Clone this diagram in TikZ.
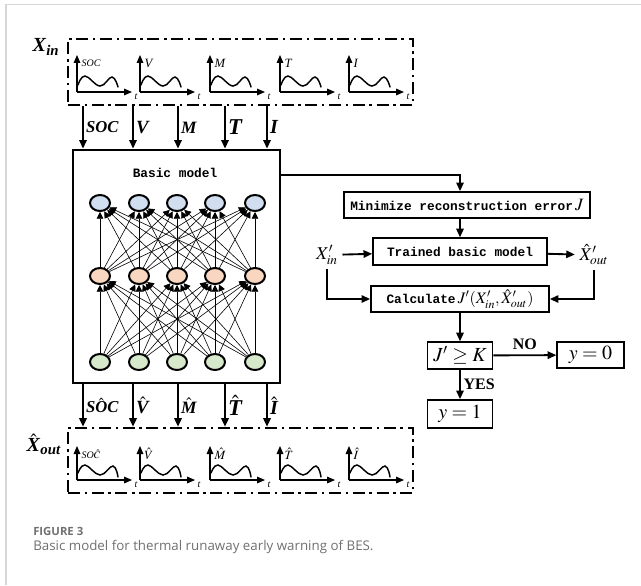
\documentclass[tikz,border=0pt]{standalone}
\usepackage{amsmath}
\usepackage{mathptmx}
\usepackage{fontspec}
\setmainfont{Liberation Serif}
\setmonofont{Liberation Mono}
\newfontfamily\capfont{Open Sans}
\usetikzlibrary{arrows.meta}
\usetikzlibrary{shapes.geometric}
\usetikzlibrary{fit}
\definecolor{cardgray}{HTML}{D6D6D6}
\definecolor{capgray}{HTML}{707070}
\definecolor{topblue}{HTML}{D0DEF0}
\definecolor{midpeach}{HTML}{F9D6C0}
\definecolor{lowgreen}{HTML}{D6EACB}
\newcommand{\bi}[1]{\textbf{\textit{#1}}}
\newcommand{\fs}[1]{\fontsize{#1}{#1}\selectfont}

\begin{document}
\begin{tikzpicture}[x=0.75pt,y=-0.75pt,
>={Triangle[length=6.5pt,width=5.5pt]},
card/.style={draw=cardgray,line width=1.1pt},
dashbox/.style={draw,inner sep=0pt,line width=1.8pt,
dash pattern=on 9pt off 3.5pt on 1.8pt off 3.5pt},
modelbox/.style={draw,inner sep=0pt,line width=2pt},
feed/.style={->,line width=1.7pt},
axis/.style={-{Triangle[length=6pt,width=5pt]},line width=0.8pt},
wave/.style={line width=1.1pt,line cap=round},
neuron/.style={ellipse,draw,line width=1.5pt,minimum width=15pt,
minimum height=12pt,inner sep=0pt},
link/.style={-{Triangle[length=5pt,width=5pt]},line width=0.45pt},
stepbox/.style={draw,line width=1.2pt,inner sep=0pt,font=\ttfamily\bfseries\fs{9.6}},
flow/.style={->,line width=1.4pt}]
\useasboundingbox (0,0) rectangle (641,585);
\draw[card] (6,585) -- (6,4.5) -- (641,4.5);

% input and output signals
\node[dashbox,fit={(68,39) (413,105)}] (inbox) {};
\node[dashbox,fit={(68,428) (413,493)}] (outbox) {};
\node[font=\fs{15}] (xin) at (46,47) {$\text{\bi{X}}_{\text{\bi{in}}}$};
\node[font=\fs{15}] (xout) at (44,444) {$\hat{\text{\bi{X}}}_{\text{\bi{out}}}$};
\foreach \x/\lab/\hlab [count=\i] in {77/{\fs{7.5}SOC}/{\fs{7.5}\textit{SO}$\hat{C}$},140/V/{$\hat{V}$},
210/M/{$\hat{M}$},280/T/{$\hat{T}$},349/I/{$\hat{I}$}}{
\draw[axis] (\x,92) -- (\x,55);
\draw[axis] (\x,92) -- (\x+55,92);
\draw[wave] plot[smooth,tension=0.7] coordinates
{(\x+1,85) (\x+8,76) (\x+23,86) (\x+35,77) (\x+41,87)};
\node[anchor=west,inner sep=1pt,font=\fs{9.5}] (inlab\i) at (\x+3,63) {\textit{\lab}};
\node[font=\fs{7.5}] (intime\i) at (\x+59,97) {\textit{t}};
\draw[axis] (\x,480) -- (\x,446);
\draw[axis] (\x,480) -- (\x+55,480);
\draw[wave] plot[smooth,tension=0.7] coordinates
{(\x+1,473) (\x+8,465) (\x+23,475) (\x+36,466) (\x+41,477)};
\node[anchor=west,inner sep=1pt,font=\fs{9.5}] (outlab\i) at (\x+3,454) {\hlab};
\node[font=\fs{7.5}] (outtime\i) at (\x+59,485) {\textit{t}};
}

% basic model
\node[modelbox,fit={(73,150) (280,383)}] (model) {};
\node[font=\ttfamily\bfseries\fs{9.6}] (title) at (175,173) {Basic model};
\foreach \x [count=\i] in {100,139,177,215,255}{
\node[neuron,fill=topblue] (b\i) at (\x,203) {};
\node[neuron,fill=midpeach] (p\i) at (\x,276) {};
\node[neuron,fill=lowgreen] (g\i) at (\x,362) {};
}
\foreach \i in {1,...,5}
\foreach \j in {1,...,5}{
\draw[link] (g\i) -- (p\j);
\draw[link] (p\i) -- (b\j);
}

% signals into and out of the model
\foreach \x/\sz/\lab/\hlab [count=\i] in {83/12.5/{\bi{SOC}}/{\bi{S}$\hat{\text{\bi{O}}}$\bi{C}},
133/14/{\bi{V}}/{$\hat{\text{\bi{V}}}$},178/13/{\bi{M}}/{$\hat{\text{\bi{M}}}$},
225/17/{\bi{T}}/{$\hat{\text{\bi{T}}}$},267/15/{\bi{I}}/{$\hat{\text{\bi{I}}}$}}{
\coordinate (col\i) at (\x,0);
\draw[feed] (inbox.south -| col\i) -- (model.north -| col\i)
node[midway,right,inner sep=1.5pt,font=\fs{\sz}] (feedin\i) {\lab};
\draw[feed] (model.south -| col\i) -- (outbox.north -| col\i)
node[midway,right,inner sep=1.5pt,font=\fs{\sz}] (feedout\i) {\hlab};
}

% warning procedure
\node[stepbox,minimum width=184.5pt,minimum height=19.5pt] (mini) at (467,205)
{Minimize reconstruction error\,{\fs{13}$J$}};
\node[stepbox,minimum width=130.5pt,minimum height=20pt] (trained) at (460,251.5)
{Trained basic model};
\node[stepbox,minimum width=133.5pt,minimum height=19.5pt] (calc) at (460,299)
{Calculate\,{\mdseries\fs{12}$J'(X'_{in},\hat{X}'_{out})$}};
\node[font=\fs{13.5}] (xinp) at (327,255) {$X'_{in}$};
\node[font=\fs{13.5}] (xoutp) at (594,255) {$\hat{X}'_{out}$};
\node[stepbox,minimum width=48.75pt,minimum height=20pt,font=\fs{15}] (test) at (460,355.5) {$J'\geq K$};
\node[stepbox,minimum width=50pt,minimum height=19.5pt,font=\fs{15}] (nowarn) at (590.5,355) {$y=0$};
\node[stepbox,minimum width=48.75pt,minimum height=21pt,font=\fs{15}] (warn) at (460,414) {$y=1$};

\draw[flow] (model.north east) ++(0,26) -| (mini.north -| trained.north);
\draw[flow] (trained.north |- mini.south) -- (trained.north);
\draw[flow] (xinp) -- (trained);
\draw[flow] (trained) -- (xoutp);
\draw[flow] (xinp.south) |- (calc.west);
\draw[flow] (xoutp.south) |- (calc.east);
\draw[flow] (calc) -- (test);
\draw[flow] (test) -- (nowarn) node[midway,above,font=\bfseries\fs{12}] (no) {NO};
\draw[flow] (test) -- (warn) node[midway,right,inner sep=2pt,font=\bfseries\fs{12}] (yes) {YES};

% caption
\node[anchor=base west,inner sep=0pt,text=capgray,font=\capfont\bfseries\fs{8.5}] (figno) at (33,535) {FIGURE 3};
\node[anchor=base west,inner sep=0pt,text=capgray,font=\capfont\fs{10}] (figtext) at (33,550)
{Basic model for thermal runaway early warning of BES.};
\end{tikzpicture}
\end{document}
